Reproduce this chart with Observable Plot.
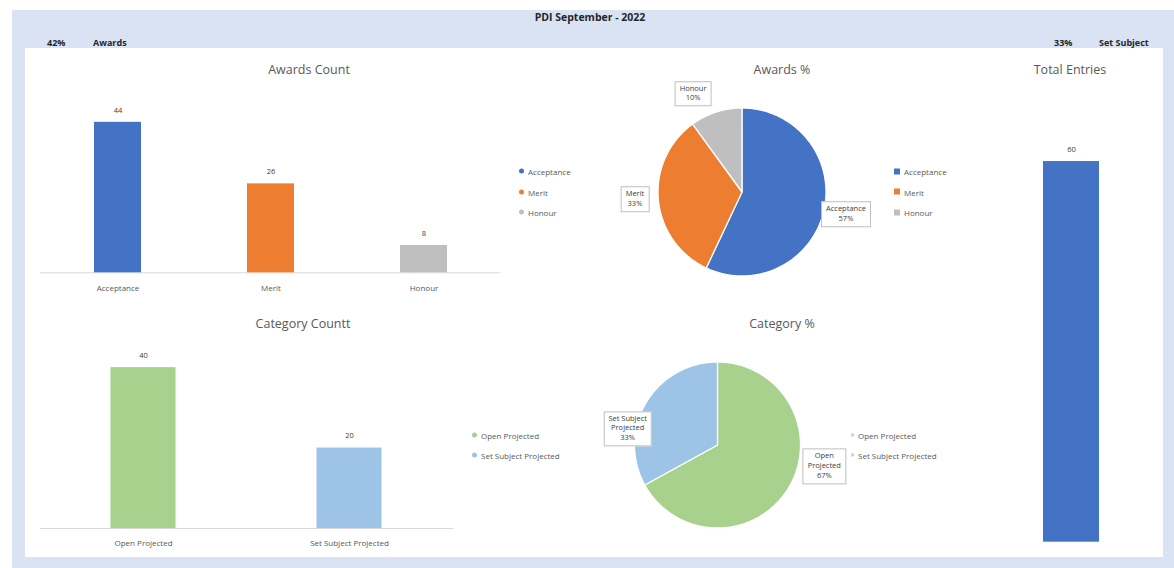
<!DOCTYPE html>
<html><head><meta charset="utf-8">
<script src="https://cdn.jsdelivr.net/npm/d3@7"></script>
<script src="https://cdn.jsdelivr.net/npm/@observablehq/plot@0.6"></script>
<style>
body{margin:0;background:#fff;font-family:"Open Sans",sans-serif;}
#page{position:relative;width:1174px;height:568px;overflow:hidden;background:#fff;}
.abs{position:absolute;}
.ttl{position:absolute;transform:translate(-50%,-50%);font-size:12.5px;color:#595959;white-space:nowrap;}
.hdr{position:absolute;transform:translateY(-50%);font-size:9px;font-weight:700;color:#262626;white-space:nowrap;}
.box{position:absolute;transform:translate(-50%,-50%);background:#fff;border:1px solid #bfbfbf;font-size:7.5px;line-height:1.3;color:#404040;text-align:center;padding:2px 4px;white-space:nowrap;}
.leg{position:absolute;transform:translateY(-50%);font-size:8px;color:#595959;white-space:nowrap;display:flex;align-items:center;}
.leg i{display:inline-block;margin-right:4px;}
</style></head><body><div id="page"></div>
<script>
// ---------- data ----------
const reportTitle = "PDI September -  2022";
const headerLeft = ["42%", "Awards"];
const headerRight = ["33%", "Set Subject"];
const awardCategories = ["Acceptance", "Merit", "Honour"];
const awardCounts = [44, 26, 8];
const awardPcts = [57, 33, 10];
const projCategories = ["Open Projected", "Set Subject Projected"];
const projCounts = [40, 20];
const projPcts = [67, 33];
const totalCategories = ["Total Entries"];
const totalCounts = [60];

// ---------- styles ----------
const awardColors = ["#4472c4", "#ed7d31", "#bfbfbf"];
const projColors = ["#a9d18e", "#9dc3e6"];
const page = document.getElementById("page");

function add(html, cls, left, top, extra) {
  const d = document.createElement("div");
  d.className = cls; d.innerHTML = html;
  d.style.left = left + "px"; d.style.top = top + "px";
  if (extra) Object.assign(d.style, extra);
  page.appendChild(d); return d;
}
function place(el, left, top) {
  el.style.position = "absolute"; el.style.left = left + "px"; el.style.top = top + "px";
  page.appendChild(el); return el;
}

// background frame
add("", "abs", 12, 10, {width: "1162px", height: "558px", background: "#dae3f3"});
add("", "abs", 25, 48, {width: "1138px", height: "509px", background: "#ffffff"});

// header
add(reportTitle, "ttl", 590, 17, {fontWeight: "700", fontSize: "10.5px", color: "#262626"});
add(headerLeft[0], "hdr", 47, 42);
add(headerLeft[1], "hdr", 93, 42);
add(headerRight[0], "hdr", 1054, 42);
add(headerRight[1], "hdr", 1099, 42);

// titles
add("Awards Count", "ttl", 309, 69);
add("Awards %", "ttl", 782, 69);
add("Total Entries", "ttl", 1070, 69);
add("Category Countt", "ttl", 303, 323);
add("Category %", "ttl", 782, 323);

const baseStyle = {fontSize: "8px", color: "#595959", background: "transparent", fontFamily: "Open Sans, sans-serif", overflow: "visible"};

// ---------- bar chart helper ----------
function barChart(cats, vals, colors, o) {
  const data = cats.map((c, i) => ({c, v: vals[i]}));
  return Plot.plot({
    width: o.width, height: o.height,
    marginLeft: o.ml, marginRight: o.mr, marginTop: o.mt, marginBottom: o.mb,
    x: {domain: cats, padding: 0, axis: o.axis ? "bottom" : null, tickSize: 0, tickPadding: o.tp || 12, label: null},
    y: {domain: o.ydom, axis: null},
    color: {domain: cats, range: colors},
    style: baseStyle,
    marks: [
      o.rule ? Plot.ruleY([0], {stroke: "#d9d9d9", strokeWidth: 1}) : null,
      Plot.barY(data, {x: "c", y: "v", fill: "c", insetLeft: o.inset, insetRight: o.inset}),
      Plot.text(data, {x: "c", y: "v", text: d => String(d.v), dy: -12, fill: "#404040", fontSize: 7.5})
    ]
  });
}

// Awards Count
place(barChart(awardCategories, awardCounts, awardColors,
  {width: 490, height: 205, ml: 20, mr: 9.5, mt: 6.3, mb: 27.7, ydom: [0, 50], inset: 53, axis: true, rule: true, tp: 13}), 20, 95);

// Category Countt
place(barChart(projCategories, projCounts, projColors,
  {width: 450, height: 215, ml: 20.1, mr: 17.1, mt: 7, mb: 27, ydom: [0, 45], inset: 70.5, axis: true, rule: true, tp: 12}), 20, 340);

// Total Entries
place(barChart(totalCategories, totalCounts, ["#4472c4"],
  {width: 150, height: 440, ml: 20, mr: 28, mt: 3, mb: 18.3, ydom: [0, 66], inset: 23, axis: false, rule: false}), 1000, 120);

// ---------- pie helper ----------
function pieChart(cats, pcts, colors, o) {
  const arcs = d3.pie().sort(null).value(d => d)(pcts);
  const pts = [];
  arcs.forEach((a, i) => {
    const n = Math.max(2, Math.ceil((a.endAngle - a.startAngle) / 0.02));
    pts.push({k: cats[i], x: 0, y: 0});
    for (let j = 0; j <= n; j++) {
      const t = a.startAngle + (a.endAngle - a.startAngle) * j / n;
      pts.push({k: cats[i], x: Math.sin(t), y: Math.cos(t)});
    }
    pts.push({k: cats[i], x: 0, y: 0});
  });
  const chart = Plot.plot({
    width: o.width, height: o.height,
    marginLeft: o.cx - o.r, marginRight: o.width - o.cx - o.r,
    marginTop: o.cy - o.r, marginBottom: o.height - o.cy - o.r,
    x: {domain: [-1, 1], axis: null},
    y: {domain: [-1, 1], axis: null},
    color: {domain: cats, range: colors},
    style: baseStyle,
    marks: [
      Plot.line(pts, {x: "x", y: "y", z: "k", fill: "k", stroke: "#ffffff", strokeWidth: 1.3, strokeLinejoin: "round"})
    ]
  });
  place(chart, o.left, o.top);
  const sx = chart.scale("x"), sy = chart.scale("y");
  arcs.forEach((a, i) => {
    const m = (a.startAngle + a.endAngle) / 2;
    const px = o.left + sx.apply(Math.sin(m) * o.lr) + o.nudge[i][0];
    const py = o.top + sy.apply(Math.cos(m) * o.lr) + o.nudge[i][1];
    add(o.labels[i] + "<br>" + pcts[i] + "%", "box", px, py);
  });
}

pieChart(awardCategories, awardPcts, awardColors, {
  left: 500, top: 85, width: 480, height: 210, cx: 241.5, cy: 106.5, r: 84, lr: 1.25,
  labels: awardCategories, nudge: [[2, 0], [-2, -2], [-16, 2]]
});
pieChart(projCategories, projPcts, projColors, {
  left: 460, top: 345, width: 520, height: 200, cx: 257, cy: 99.5, r: 83, lr: 1.25,
  labels: ["Open<br>Projected", "Set Subject<br>Projected"], nudge: [[18, -31], [0, 37]]
});

// ---------- legends ----------
function legend(cats, colors, x, y0, gap, shape) {
  cats.forEach((c, i) => {
    let mk;
    if (shape === "circle") mk = `<i style="width:5px;height:5px;border-radius:50%;background:${colors[i]}"></i>`;
    else if (shape === "square") mk = `<i style="width:6px;height:6px;background:${colors[i]}"></i>`;
    else mk = `<i style="width:3px;height:3px;background:#d0d0d0"></i>`;
    add(mk + c, "leg", x, y0 + i * gap);
  });
}
legend(awardCategories, awardColors, 519, 171, 20.5, "circle");
legend(awardCategories, awardColors, 894, 171, 20.5, "square");
legend(projCategories, projColors, 472, 435, 20, "circle");
legend(projCategories, projColors, 851, 435, 20, "faint");
</script>
</body></html>
